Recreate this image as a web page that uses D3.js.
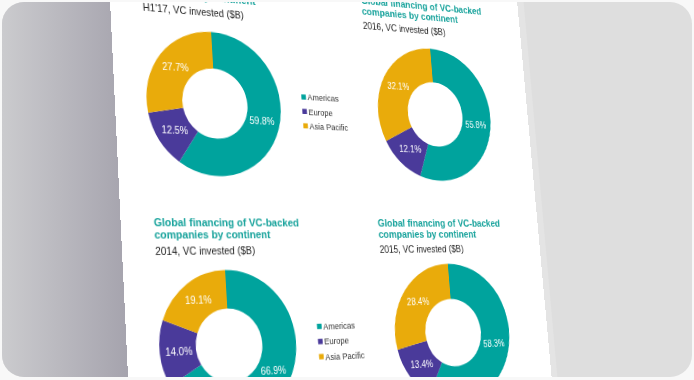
<!DOCTYPE html>
<html>
<head>
<meta charset="utf-8">
<script src="https://cdn.jsdelivr.net/npm/d3@7"></script>
<style>
  html, body { margin: 0; padding: 0; background: #f8f8f8; }
  #stage { position: relative; width: 694px; height: 380px; overflow: hidden; }
  #frame { position: absolute; left: 0; top: 0; }
  #clip { position: absolute; left: 0; top: 0; width: 694px; height: 380px;
          clip-path: inset(2px 2px 3px 2px round 22px); }
  #page { position: absolute; left: 0; top: 0; transform-origin: 0 0; }
  text { font-family: "Liberation Sans", Arial, sans-serif; }
</style>
</head>
<body>
<div id="stage">
  <svg id="frame"></svg>
  <div id="clip"><svg id="page"></svg></div>
</div>
<script>
// data
var periods = ["H1'17", "2016", "2014", "2015"];
var continents = ["Americas", "Europe", "Asia Pacific"];
var americas = [59.8, 55.8, 66.9, 58.3];
var europe = [12.5, 12.1, 14.0, 13.4];
var asiaPacific = [27.7, 32.1, 19.1, 28.4];
var titleLines = ["Global financing of VC-backed", "companies by continent"];
var subtitleText = ", VC invested ($B)";

var colors = ["#00a39d", "#4a3a9a", "#e9ab0b"];

var svgWidth = 694;
var svgHeight = 380;

// the page is flat in its own units, then bent into the photo
var pageW = 500;
var pageH = 476;
var corners = [[107.1, -60], [515.5, -16], [553.6, 398.3], [130.6, 430]];

// where each chart sits on the page
var slots = [
  {tx: 34, top: 0, cx: 107, cy: 159.5, legend: -11.5},
  {tx: 288, top: 0, cx: 373, cy: 159.5, legend: null},
  {tx: 34, top: 243.5, cx: 107, cy: 401.5, legend: -15},
  {tx: 288, top: 243.5, cx: 373, cy: 398.5, legend: null}
];

// ---- background card ----
var frame = d3.select("#frame")
  .attr("width", svgWidth)
  .attr("height", svgHeight);

var defs = frame.append("defs");
var shade = defs.append("linearGradient")
  .attr("id", "shade")
  .attr("gradientUnits", "userSpaceOnUse")
  .attr("x1", 2).attr("x2", 125).attr("y1", 0).attr("y2", 0);
shade.append("stop").attr("offset", "0%").attr("stop-color", "#cbcbce");
shade.append("stop").attr("offset", "100%").attr("stop-color", "#a6a4ae");

defs.append("clipPath").attr("id", "card")
  .append("rect")
  .attr("x", 2).attr("y", 2)
  .attr("width", svgWidth - 4).attr("height", svgHeight - 5)
  .attr("rx", 22);

var card = frame.append("g").attr("clip-path", "url(#card)");
card.append("rect")
  .attr("x", 0).attr("y", 0)
  .attr("width", svgWidth).attr("height", svgHeight)
  .attr("fill", "#dedede");
card.append("rect")
  .attr("x", 0).attr("y", 0)
  .attr("width", 140).attr("height", svgHeight)
  .attr("fill", "url(#shade)");
// faint light band next to the page's right edge
card.append("line")
  .attr("x1", 518).attr("y1", -10)
  .attr("x2", 554).attr("y2", 390)
  .attr("stroke", "#e4e4e4")
  .attr("stroke-width", 9);

// ---- perspective: map page rectangle onto the photographed quad ----
function homography(q, w, h) {
  var x0 = q[0][0], y0 = q[0][1], x1 = q[1][0], y1 = q[1][1];
  var x2 = q[2][0], y2 = q[2][1], x3 = q[3][0], y3 = q[3][1];
  var dx1 = x1 - x2, dx2 = x3 - x2, dx3 = x0 - x1 + x2 - x3;
  var dy1 = y1 - y2, dy2 = y3 - y2, dy3 = y0 - y1 + y2 - y3;
  var den = dx1 * dy2 - dx2 * dy1;
  var g = (dx3 * dy2 - dx2 * dy3) / den;
  var hh = (dx1 * dy3 - dx3 * dy1) / den;
  var a = x1 - x0 + g * x1, b = x3 - x0 + hh * x3, c = x0;
  var d = y1 - y0 + g * y1, e = y3 - y0 + hh * y3, f = y0;
  return [a / w, d / w, 0, g / w,
          b / h, e / h, 0, hh / h,
          0, 0, 1, 0,
          c, f, 0, 1];
}

var page = d3.select("#page")
  .attr("width", pageW)
  .attr("height", pageH)
  .style("transform", "matrix3d(" + homography(corners, pageW, pageH).join(",") + ")");

page.append("rect")
  .attr("width", pageW).attr("height", pageH)
  .attr("fill", "#ffffff");

// ---- donuts ----
var color = d3.scaleOrdinal().domain(continents).range(colors);
var pie = d3.pie().sort(null).value(function(d) { return d.value; });
var outerR = 74, innerR = 36;
var arc = d3.arc().innerRadius(innerR).outerRadius(outerR);
var labelArc = d3.arc().innerRadius(54).outerRadius(54);

periods.forEach(function(period, i) {
  var slot = slots[i];
  var rows = [
    {name: continents[0], value: americas[i]},
    {name: continents[1], value: europe[i]},
    {name: continents[2], value: asiaPacific[i]}
  ];
  var g = page.append("g");

  // title + subtitle
  g.selectAll(".title")
    .data(titleLines)
    .enter()
    .append("text")
    .attr("class", "title")
    .attr("x", slot.tx)
    .attr("y", function(d, k) { return slot.top + 41 + k * 12; })
    .attr("fill", "#16a29b")
    .attr("font-size", 11)
    .attr("font-weight", "bold")
    .text(function(d) { return d; });

  g.append("text")
    .attr("x", slot.tx)
    .attr("y", slot.top + 69)
    .attr("fill", "#222")
    .attr("font-size", 10.4)
    .text(period + subtitleText);

  var donut = g.append("g")
    .attr("transform", `translate(${slot.cx}, ${slot.cy})`);

  donut.selectAll("path")
    .data(pie(rows))
    .enter()
    .append("path")
    .attr("d", arc)
    .attr("fill", function(d) { return color(d.data.name); });

  donut.selectAll(".lbl")
    .data(pie(rows))
    .enter()
    .append("text")
    .attr("class", "lbl")
    .attr("transform", function(d) { return `translate(${labelArc.centroid(d)})`; })
    .attr("text-anchor", "middle")
    .attr("dy", "0.35em")
    .attr("fill", "#ffffff")
    .attr("font-size", 10)
    .text(function(d) { return d.data.value.toFixed(1) + "%"; });

  if (slot.legend !== null) {
    var legend = g.append("g")
      .attr("transform", `translate(209, ${slot.cy + slot.legend})`);
    var item = legend.selectAll(".item")
      .data(continents)
      .enter()
      .append("g")
      .attr("transform", function(d, k) { return `translate(0, ${k * 15.3})`; });
    item.append("rect")
      .attr("x", -2.7).attr("y", -2.7)
      .attr("width", 5.4).attr("height", 5.4)
      .attr("fill", function(d) { return color(d); });
    item.append("text")
      .attr("x", 4.5)
      .attr("y", 3.4)
      .attr("fill", "#333")
      .attr("font-size", 9)
      .text(function(d) { return d; });
  }
});
</script>
</body>
</html>
